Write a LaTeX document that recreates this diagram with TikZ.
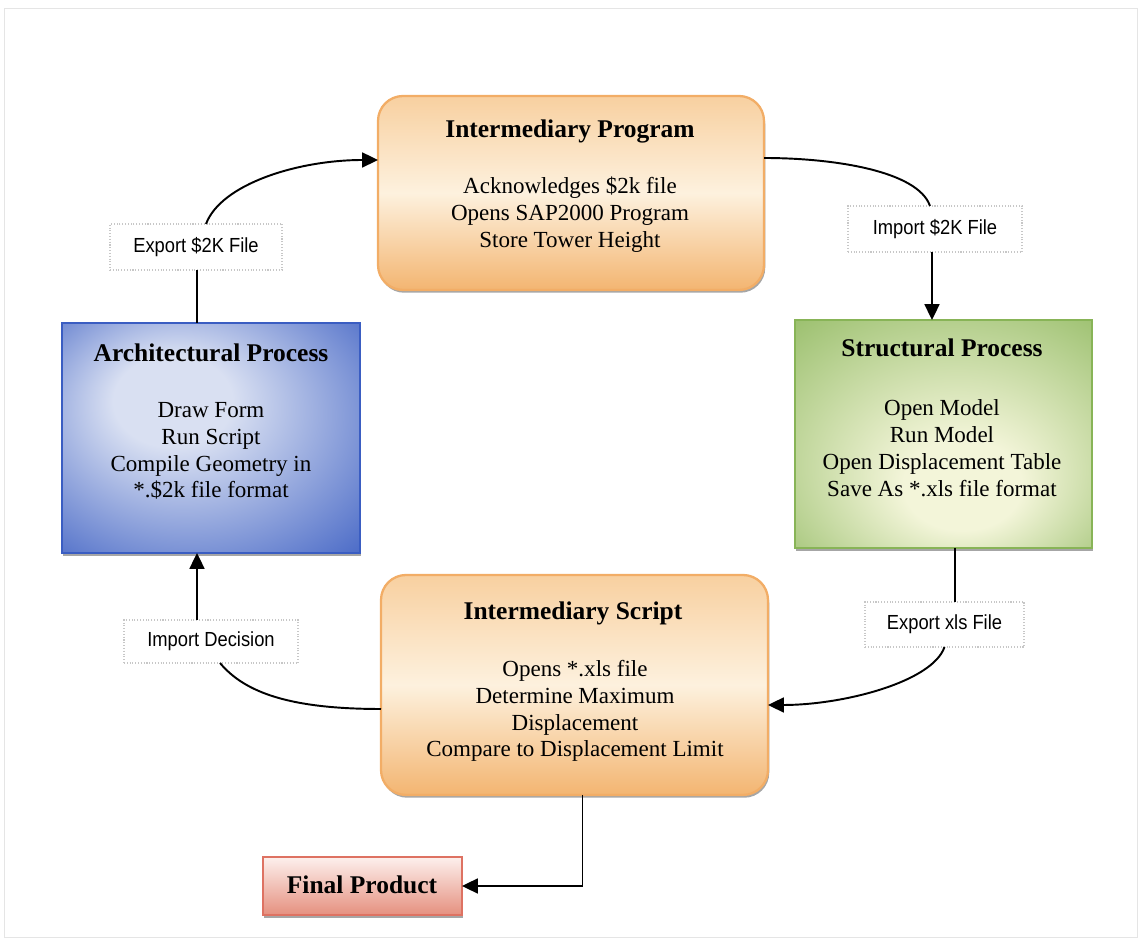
\documentclass[tikz,border=0pt]{standalone}
\usepackage{fontspec}
\setmainfont{Liberation Serif}
\newfontfamily\lblfont[FakeStretch=0.9]{Liberation Sans}
\usetikzlibrary{arrows.meta,calc,shadows}

\definecolor{orangeEdge}{HTML}{F2AD66}
\definecolor{orangeTop}{HTML}{F8D0A0}
\definecolor{orangeMid}{HTML}{FDF1DE}
\definecolor{orangeBot}{HTML}{F3B571}
\definecolor{archDark}{HTML}{3A5DC2}
\definecolor{archLight}{HTML}{D9E0F2}
\definecolor{structDark}{HTML}{88B457}
\definecolor{structLight}{HTML}{F3F5D9}
\definecolor{finalEdge}{HTML}{DE7262}
\definecolor{finalTop}{HTML}{FDF0ED}
\definecolor{finalBot}{HTML}{E5907F}

\pgfdeclareradialshading{archfade}{\pgfpoint{-8bp}{10bp}}{%
  color(0bp)=(archLight); color(10bp)=(archLight);
  color(42bp)=(archDark); color(50bp)=(archDark)}
\pgfdeclareradialshading{structfade}{\pgfpoint{4bp}{-14bp}}{%
  color(0bp)=(structLight); color(10bp)=(structLight);
  color(45bp)=(structDark); color(50bp)=(structDark)}

\tikzset{
  boxshadow/.style={drop shadow={shadow xshift=0.25mm, shadow yshift=-0.55mm,
      fill=black, opacity=0.35}},
  procbox/.style={inner sep=0pt, outer sep=0pt, line width=1.3pt, boxshadow},
  roundbox/.style={procbox, rounded corners=5mm, draw=orangeEdge,
      top color=orangeTop, bottom color=orangeBot, middle color=orangeMid},
  archbox/.style={procbox, draw=archDark, shade, shading=archfade},
  structbox/.style={procbox, draw=structDark, shade, shading=structfade},
  finalbox/.style={procbox, draw=finalEdge, top color=finalTop, bottom color=finalBot},
  titletext/.style={font=\fontsize{14.5}{17}\selectfont\bfseries, inner sep=0pt},
  bodytext/.style={font=\fontsize{13.1}{15.3}\selectfont, align=center, inner sep=0pt},
  lblbox/.style={draw=black!22, densely dotted, line width=0.6pt, fill=white,
      inner sep=0pt, outer sep=0pt, font=\lblfont\fontsize{11.6}{13}\selectfont},
  conn/.style={line width=1.1pt, black},
  tip/.style={conn, -{Triangle[length=9pt,width=8.5pt]}}
}

\begin{document}
\begin{tikzpicture}[x=0.2mm, y=-0.2mm]
\useasboundingbox (0,0) rectangle (1141,940);
% faint page frame
\draw[black!10, line width=0.4pt] (4,8) rectangle (1137,937);

% process boxes
\node[roundbox, minimum width=77.2mm, minimum height=38.8mm] (prog) at (571,193) {};
\node[archbox, minimum width=59.6mm, minimum height=46mm] (arch) at (211,438) {};
\node[structbox, minimum width=59.4mm, minimum height=45.6mm] (struct) at (943.5,434) {};
\node[roundbox, minimum width=77.4mm, minimum height=44mm] (script) at (574.5,685) {};
\node[finalbox, minimum width=39.8mm, minimum height=11.6mm] (final) at (362.5,886) {};

% box texts
\node[titletext] (progT) at (570,131) {Intermediary Program};
\node[bodytext] (progB) at (570,215) {Acknowledges \$2k file\\Opens SAP2000 Program\\Store Tower Height};

\node[titletext] (archT) at (211,353) {Architectural Process};
\node[bodytext] (archB) at (211,451) {Draw Form\\Run Script\\Compile Geometry in\\*.\$2k file format};

\node[titletext] (structT) at (942,348) {Structural Process};
\node[bodytext] (structB) at (942,448) {Open Model\\Run Model\\Open Displacement Table\\Save As *.xls file format};

\node[titletext] (scriptT) at (573,613) {Intermediary Script};
\node[bodytext] (scriptB) at (575,711) {Opens *.xls file\\Determine Maximum\\Displacement\\Compare to Displacement Limit};

\node[titletext] (finalT) at (362,885) {Final Product};

% connector labels
\node[lblbox, minimum width=34.4mm, minimum height=9.2mm] (lblA) at (196,247) {Export \$2K File};
\node[lblbox, minimum width=34.8mm, minimum height=9.2mm] (lblB) at (935,229) {Import \$2K File};
\node[lblbox, minimum width=31.8mm, minimum height=9mm] (lblC) at (944.5,624.5) {Export xls File};
\node[lblbox, minimum width=34.8mm, minimum height=8.6mm] (lblD) at (211,641.5) {Import Decision};

% connector end points
\coordinate (archTop) at ($(arch.north)+(-14,0)$);
\coordinate (lblAout) at ($(lblA.north)+(10,0)$);
\coordinate (progIn) at ($(prog.west)+(0,-33)$);
\coordinate (progOut) at ($(prog.east)+(0,-35)$);
\coordinate (lblBin) at ($(lblB.north)+(-5,0)$);
\coordinate (lblBout) at ($(lblB.south)+(-3,0)$);
\coordinate (structOut) at ($(struct.south)+(11.5,0)$);
\coordinate (scriptIn) at ($(script.east)+(0,20)$);
\coordinate (scriptOut) at ($(script.west)+(0,24)$);
\coordinate (lblDin) at ($(lblD.south)+(9,0)$);
\coordinate (lblDout) at ($(lblD.north)+(-14,0)$);
\coordinate (scriptDown) at ($(script.south)+(8,0)$);

% Architectural -> Intermediary Program
\draw[conn] (archTop) -- (archTop |- lblA.south);
\draw[tip] (lblAout) .. controls +(15,-40) and +(-80,0) .. (progIn);

% Intermediary Program -> Structural
\draw[conn] (progOut) .. controls +(70,0) and +(-12,-35) .. (lblBin);
\draw[tip] (lblBout) -- (lblBout |- struct.north);

% Structural -> Intermediary Script
\draw[conn] (structOut) -- (structOut |- lblC.north);
\draw[tip] (lblC.south) .. controls +(-12,35) and +(75,0) .. (scriptIn);

% Intermediary Script -> Architectural
\draw[conn] (scriptOut) .. controls +(-90,0) and +(25,30) .. (lblDin);
\draw[tip] (lblDout) -- (lblDout |- arch.south);

% Intermediary Script -> Final Product
\draw[tip] (scriptDown) |- (final.east);
\end{tikzpicture}
\end{document}
